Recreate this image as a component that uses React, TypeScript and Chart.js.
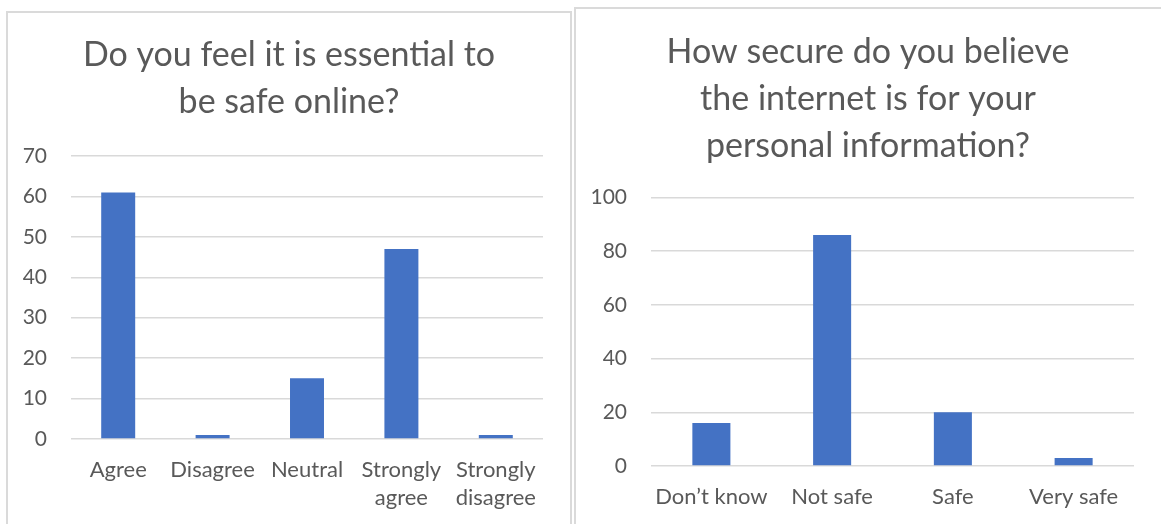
import React, { useEffect, useRef } from "react";
import { Chart, registerables } from "chart.js";

Chart.register(...registerables);

// Survey question 1
const essentialTitle = ["Do you feel it is essential to", "be safe online?"];
const essentialCategories: (string | string[])[] = [
  "Agree",
  "Disagree",
  "Neutral",
  ["Strongly", "agree"],
  ["Strongly", "disagree"],
];
const essentialCounts = [61, 1, 15, 47, 1];

// Survey question 2
const secureTitle = [
  "How secure do you believe",
  "the internet is for your",
  "personal information?",
];
const secureCategories = ["Don\u2019t know", "Not safe", "Safe", "Very safe"];
const secureCounts = [16, 86, 20, 3];

const FONT = "Lato, 'Open Sans', sans-serif";
const TEXT = "#595959";
const BAR = "#4472c4";
const GRID = "#d9d9d9";

type PanelProps = {
  title: string[];
  labels: (string | string[])[];
  values: number[];
  yMax: number;
  yStep: number;
  width: number;
  height: number;
  yAxisWidth: number;
  xAxisHeight: number;
  padRight: number;
  titlePadTop: number;
  titlePadBottom: number;
  barPct: number;
};

function BarPanel(p: PanelProps) {
  const ref = useRef<HTMLCanvasElement>(null);
  useEffect(() => {
    if (!ref.current) return;
    const chart = new Chart(ref.current, {
      type: "bar",
      data: {
        labels: p.labels,
        datasets: [
          {
            data: p.values,
            backgroundColor: BAR,
            borderWidth: 0,
            barPercentage: p.barPct,
            categoryPercentage: 1,
          },
        ],
      },
      options: {
        animation: false,
        responsive: false,
        maintainAspectRatio: false,
        layout: { padding: 0 },
        plugins: {
          legend: { display: false },
          tooltip: { enabled: false },
          title: {
            display: true,
            text: p.title,
            color: TEXT,
            font: { family: FONT, size: 34, weight: "normal", lineHeight: 47 / 34 },
            padding: { top: p.titlePadTop, bottom: p.titlePadBottom },
          },
        },
        scales: {
          x: {
            grid: { display: false, drawTicks: false },
            border: { display: false },
            ticks: {
              color: TEXT,
              font: { family: FONT, size: 22, lineHeight: 28 / 22 },
              padding: 17,
              maxRotation: 0,
              autoSkip: false,
            },
            afterFit: (s: any) => {
              s.height = p.xAxisHeight;
            },
          },
          y: {
            min: 0,
            max: p.yMax,
            grid: { color: GRID, lineWidth: 1.5, drawTicks: false },
            border: { display: false },
            ticks: {
              stepSize: p.yStep,
              color: TEXT,
              font: { family: FONT, size: 21 },
              padding: 24,
            },
            afterFit: (s: any) => {
              s.width = p.yAxisWidth;
            },
          },
          // empty right-hand margin so the title stays centred on the whole panel
          gutter: {
            type: "linear",
            position: "right",
            display: true,
            grid: { display: false, drawTicks: false },
            border: { display: false },
            ticks: { display: false },
            afterFit: (s: any) => {
              s.width = p.padRight;
            },
          },
        },
      },
    });
    return () => chart.destroy();
  }, []);
  return (
    <canvas
      ref={ref}
      width={p.width}
      height={p.height}
      style={{ display: "block", width: p.width, height: p.height }}
    />
  );
}

const panelStyle: React.CSSProperties = {
  position: "absolute",
  border: "2px solid #dadada",
  background: "#fff",
  overflow: "hidden",
};

export default function App() {
  useEffect(() => {
    document.body.style.margin = "0";
    document.body.style.background = "#fff";
  }, []);
  return (
    <div
      style={{
        position: "relative",
        width: 1161,
        height: 524,
        overflow: "hidden",
        background: "#fff",
      }}
    >
      <div style={{ ...panelStyle, left: 6, top: 11, width: 562, height: 530 }}>
        <BarPanel
          title={essentialTitle}
          labels={essentialCategories}
          values={essentialCounts}
          yMax={70}
          yStep={10}
          width={562}
          height={511}
          yAxisWidth={63}
          xAxisHeight={85}
          padRight={27}
          titlePadTop={18.5}
          titlePadBottom={30.5}
          barPct={0.36}
        />
      </div>
      <div style={{ ...panelStyle, left: 574, top: 7, width: 620, height: 540 }}>
        <BarPanel
          title={secureTitle}
          labels={secureCategories}
          values={secureCounts}
          yMax={100}
          yStep={20}
          width={584}
          height={515}
          yAxisWidth={75}
          xAxisHeight={58}
          padRight={26}
          titlePadTop={19.5}
          titlePadBottom={28}
          barPct={0.315}
        />
      </div>
    </div>
  );
}
